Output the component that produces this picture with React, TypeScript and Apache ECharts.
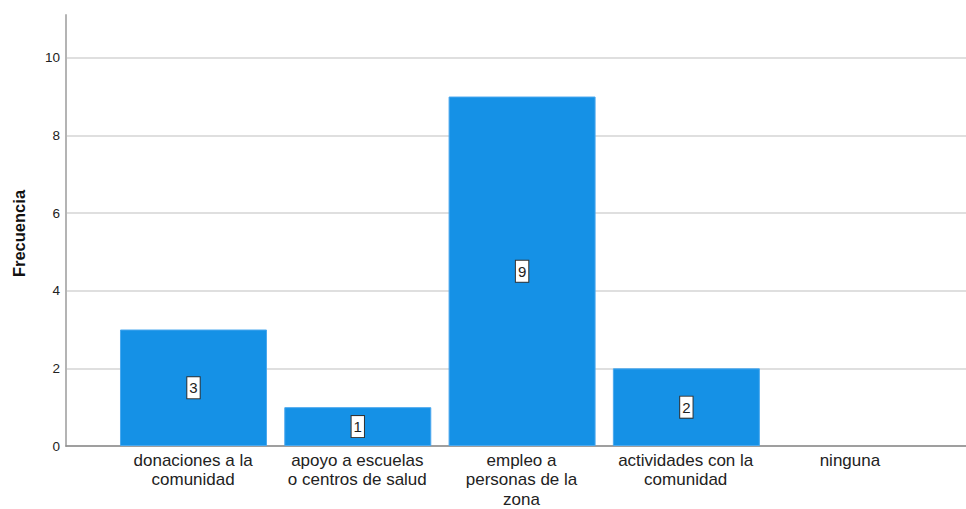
import React, { useEffect, useRef } from "react";
import * as echarts from "echarts";

const categories: string[] = [
  "donaciones a la\ncomunidad",
  "apoyo a escuelas\no centros de salud",
  "empleo a\npersonas de la\nzona",
  "actividades con la\ncomunidad",
  "ninguna",
];
const frecuencia: number[] = [3, 1, 9, 2, 0];
const yTicks = { min: 0, max: 11.1, interval: 2 };
const yTitle = "Frecuencia";

export default function App() {
  const ref = useRef<HTMLDivElement>(null);
  useEffect(() => {
    if (!ref.current) return;
    const chart = echarts.init(ref.current, null, { renderer: "svg" });
    const font = "'Liberation Sans', Arial, sans-serif";
    chart.setOption({
      animation: false,
      backgroundColor: "#ffffff",
      grid: [
        { left: 66, right: 0, top: 15, bottom: 63 },
        { left: 111, right: 34, top: 15, bottom: 63 },
      ],
      graphic: [
        {
          type: "text",
          x: 19,
          y: 233.5,
          rotation: Math.PI / 2,
          style: {
            text: yTitle,
            fontFamily: font,
            fontSize: 16.5,
            fontWeight: "bold",
            fill: "#111111",
            align: "center",
            verticalAlign: "middle",
          },
        },
      ],
      xAxis: [
        {
          type: "value",
          gridIndex: 0,
          min: -0.776,
          max: 4.702,
          axisLine: { show: true, onZero: true, lineStyle: { color: "#8a8a8a", width: 1.5 } },
          axisTick: { show: false },
          axisLabel: { show: false },
          splitLine: { show: false },
        },
        {
          type: "category",
          gridIndex: 1,
          data: categories,
          axisLine: { show: false },
          axisTick: { show: false },
          axisLabel: {
            interval: 0,
            margin: 10,
            fontFamily: font,
            fontSize: 17,
            lineHeight: 19.5,
            color: "#222222",
          },
        },
      ],
      yAxis: [
        {
          type: "value",
          gridIndex: 0,
          min: yTicks.min,
          max: yTicks.max,
          interval: yTicks.interval,
          axisLine: { show: true, onZero: false, lineStyle: { color: "#b4b4b4", width: 2 } },
          axisTick: { show: false },
          axisLabel: {
            showMaxLabel: false,
            fontFamily: font,
            fontSize: 13.5,
            color: "#222222",
            margin: 6,
          },
          splitLine: {
            show: true,
            showMaxLine: false,
            lineStyle: { color: "#d4d4d4", width: 1.5 },
          },
        },
        {
          type: "value",
          gridIndex: 1,
          show: false,
          min: yTicks.min,
          max: yTicks.max,
        },
      ],
      series: [
        {
          type: "bar",
          xAxisIndex: 0,
          yAxisIndex: 0,
          barWidth: 147,
          label: {
            show: true,
            position: "inside",
            formatter: (p: any) => String(p.value[1]),
            fontFamily: font,
            fontSize: 15,
            color: "#222222",
            backgroundColor: "#ffffff",
            borderColor: "#333333",
            borderWidth: 1,
            padding: [3, 2, 3, 2],
          },
          data: frecuencia.map((v, i) => ({
            value: [i, v],
            itemStyle: {
              color: "#1591e6",
              borderColor: "#4aa8ee",
              borderWidth: v > 0 ? 1 : 0,
            },
            label: { show: v > 0 },
          })),
        },
      ],
    });
    return () => chart.dispose();
  }, []);
  return (
    <div
      ref={ref}
      style={{ position: "fixed", left: 0, top: 0, width: 966, height: 509 }}
    />
  );
}
